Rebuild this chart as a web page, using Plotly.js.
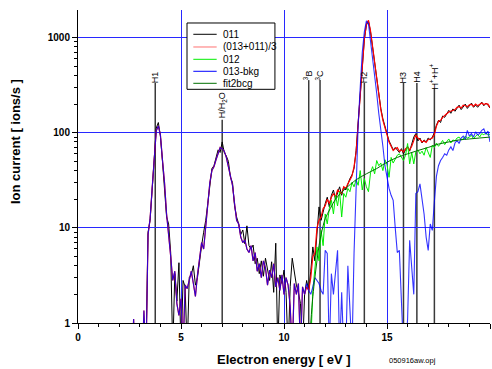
<!DOCTYPE html>
<html><head><meta charset="utf-8">
<script src="https://cdn.plot.ly/plotly-3.0.1.min.js"></script>
<style>html,body{margin:0;padding:0;background:#fff}#chart{width:492px;height:369px}</style>
</head><body><div id="chart"></div>
<script>
// Energy grid: start and step (eV)
const E0 = 2.5, dE = 0.1;
const E0_012 = 11.2;

// 011 (black), 2.5 .. 20.0 eV
const ion011 = [
 0.3,0.3,0.3,0.3,0.3,0.3,0.3,0.3,0.5,9,
 12,27,62,112,128,92,50,27,13,11,
 5.5,0.5,3.3,1.7,4.3,0.5,2.8,2.4,0.5,3.0,
 3.2,4.0,2.5,3.0,4.6,6.5,9.0,12,18,30,
 42,45,56,66,62,80,62,57,50,34,
 30,17,13,11,8.5,9.5,6.8,10.5,6.5,6.0,
 6.6,4.2,4.8,3.3,4.5,3.1,4.8,3.6,2.8,4.4,
 2.1,6.9,0.5,3.2,2.6,3.6,2.1,0.5,2.4,4.8,
 3.6,2.5,2.1,1.6,0.5,2.0,2.8,2.2,3.5,6.3,
 4.5,9.0,16.6,12,15,18,21,16.6,22,25,
 20,24,27,22,27,25,29,33,36,42,
 65,130,260,560,950,1350,1500,1150,800,520,
 340,240,180,140,115,95,82,74,66,70,
 66,62,68,60,66,72,64,75,90,98,
 82,88,78,84,80,88,84,90,100,120,
 135,128,150,145,160,172,160,178,168,180,
 195,175,190,200,180,192,205,185,195,185,
 200,210,192,205,195,182
];

// (013+011)/3 (red), 2.5 .. 20.0 eV
const ionAvg = [
 0.3,0.3,1.1,0.3,0.3,0.3,0.3,1.35,0.4,8.5,
 12.5,26,58,105,118,95,52,30,14,9,
 5,2.8,3.5,1.6,1.2,1.8,0.5,2.5,2.3,2.8,
 3.5,2.6,1.9,3.2,5.0,7.0,6.0,11,17,30,
 40,44,52,62,70,68,64,55,45,36,
 28,18,12,11,8,7,7.5,6,5.5,6.5,
 4.5,5.5,3.5,4.2,3.0,4.5,3.8,2.5,3.6,3.0,
 4.2,2.4,3.0,2.2,3.2,2.0,3.0,2.5,1.5,0.5,
 2.6,2.0,2.6,0.5,2.4,2.0,2.4,2.2,3.0,5.0,
 5.4,10,12,13,16,17,20,18,21,23,
 21,25,24,23,27,26,29,32,35,44,
 62,125,255,580,960,1380,1520,1180,800,520,
 345,235,175,135,112,96,80,72,65,68,
 70,64,66,63,68,70,66,72,85,95,
 88,85,80,82,79,85,86,88,96,118,
 132,135,145,150,158,165,168,172,175,185,
 188,182,195,192,188,196,198,190,200,192,
 198,205,198,202,200,185
];

// 012 (green), 11.2 .. 20.0 eV
const ion012 = [
 0.5,0.6,2.2,
 3.5,6.3,4.5,9.4,6.5,14,11,16,19.5,14,
 22,17,24,13,23,21,26,24,30,27,
 32,28,40,25,33,27,24,38,44,37,
 51,45,48,40,52,46,34,55,48,52,
 58,60,55,51,58,77,47,62,47,63,
 66,60,64,58,70,62,55,74,70,78,
 72,77,83,75,80,86,78,84,82,88,
 90,84,86,92,88,90,94,86,92,96,
 90,98,95,100,94,97
];

// 013-bkg (blue), 2.5 .. 20.0 eV
const ion013bkg = [
 0.3,0.3,1.1,0.3,0.3,0.3,0.3,1.35,0.4,8.5,
 12.5,26,58,105,118,95,52,30,14,9,
 5,2.8,3.5,1.6,1.2,1.8,0.5,2.5,2.3,2.8,
 3.5,2.6,1.9,3.2,5.0,7.0,6.0,11,17,30,
 40,44,52,62,70,68,64,55,45,36,
 28,18,12,11,8,7,7.5,6,5.5,6.5,
 4.5,5.5,3.5,4.2,3.0,4.5,3.8,2.5,3.6,3.0,
 4.2,2.4,3.0,2.2,3.2,2.0,3.0,2.5,1.5,0.5,
 2.6,2.0,2.6,0.5,2.4,2.0,2.6,2.2,2.0,2.4,
 3.0,2.8,2.6,2.2,2.0,5.8,5.4,0.5,3.3,2.0,
 3.6,5.8,0.5,2.1,0.5,0.5,4.0,1.1,0.5,5.4,
 27,120,300,700,1150,1500,1400,950,620,400,
 260,160,110,72,45,33,26,22,19.5,10,
 5.5,5.8,1.8,0.5,0.5,1.1,7.4,3.5,2.0,23,
 24,29,21,14,8,5.8,11,9.4,19,35,
 45,51,55,60,58,66,71,65,78,83,
 77,88,92,85,106,92,98,90,102,95,
 98,106,110,96,104,80
];

// fit2bcg (dark green)
const fitE = [11.3,11.4,11.5,11.6,11.7,11.8,11.9,12.0,12.25,12.5,12.75,13,13.5,14,14.5,15,15.5,16,16.5,17,17.5,18,18.5,19,19.5,20];
const fitV = [1.0,1.9,3.0,4.5,6.5,8.5,10.5,12.5,16,20,23,26,32,37,42,49,55,60,65,70,76,80,84,86,88,90];

// Marker lines (energies and labels)
const markE = [3.75, 7.0, 11.2, 11.75, 13.9, 15.8, 16.45, 17.3];
const markLabel = ["H1", "H/H<sub>2</sub>O", "<sup>3</sup>B", "<sup>3</sup>C", "H2", "H3", "H4", "H<sup>+</sup>+H<sup>+</sup>"];

const xTitle = "Electron energy [ eV ]";
const yTitle = "Ion current [ ions/s ]";
const fileNote = "050916aw.opj";

// ---- drawing ----
const FONT = "Liberation Sans, Arial, sans-serif";
const GRID = "#2828ff";
// placement of marker lines / labels (paper fractions)
const markTop = [0.767, 0.649, 0.776, 0.776, 0.767, 0.767, 0.767, 0.751];
const markLabelMid = [0.786, 0.696, 0.791, 0.791, 0.786, 0.786, 0.786, 0.789];

const styles = [
  {color: "#000000", width: 1},
  {color: "#ff0000", width: 1.2},
  {color: "#00ee00", width: 1},
  {color: "#0000ff", width: 1.1, opacity: 0.8},
  {color: "#007000", width: 1, shape: "spline"}
];

const traces = [
  {name: "011", y: ion011, x0: E0, dx: dE},
  {name: "(013+011)/3", y: ionAvg, x0: E0, dx: dE},
  {name: "012", y: ion012, x0: E0_012, dx: dE},
  {name: "013-bkg", y: ion013bkg, x0: E0, dx: dE},
  {name: "fit2bcg", x: fitE, y: fitV}
].map((t, i) => Object.assign(t, {
  type: "scatter", mode: "lines", showlegend: false,
  opacity: styles[i].opacity || 1,
  line: {color: styles[i].color, width: styles[i].width, shape: styles[i].shape || "linear"}
}));

const shapes = markE.map((e, i) => ({
  type: "line", xref: "x", yref: "paper", x0: e, x1: e, y0: 0, y1: markTop[i],
  line: {color: "#3a3a3a", width: 1.5}, layer: "below"
}));

const annotations = markE.map((e, i) => ({
  xref: "x", yref: "paper", x: e, y: markLabelMid[i], text: markLabel[i], showarrow: false,
  textangle: -90, xanchor: "center", yanchor: "middle", font: {family: FONT, size: 9, color: "#000"}
}));

// manual legend box
const LG = {x0: 0.2646, x1: 0.478, y0: 0.7466, y1: 0.9585, lx0: 0.2799, lx1: 0.3366, tx: 0.3464,
            rows: [0.9224, 0.8818, 0.8425, 0.8042, 0.7658]};
shapes.push({type: "rect", xref: "paper", yref: "paper", x0: LG.x0, x1: LG.x1, y0: LG.y0, y1: LG.y1,
             fillcolor: "#fff", line: {color: "#000", width: 1}, layer: "above"});
traces.forEach((t, i) => {
  shapes.push({type: "line", xref: "paper", yref: "paper", x0: LG.lx0, x1: LG.lx1, y0: LG.rows[i], y1: LG.rows[i],
               line: {color: styles[i].color, width: 1}, opacity: i === 1 ? 0.55 : 1, layer: "above"});
  annotations.push({xref: "paper", yref: "paper", x: LG.tx, y: LG.rows[i], text: t.name, showarrow: false,
                    xanchor: "left", yanchor: "middle", font: {family: FONT, size: 10, color: "#000"}});
});

annotations.push(
  {xref: "paper", yref: "paper", x: 0.5, y: -0.118, text: xTitle, showarrow: false, xanchor: "center", yanchor: "middle",
   font: {family: FONT, size: 13, color: "#000", weight: "bold"}},
  {xref: "paper", yref: "paper", x: -0.153, y: 0.581, text: yTitle, showarrow: false, textangle: -90, xanchor: "center", yanchor: "middle",
   font: {family: FONT, size: 13, color: "#000", weight: "bold"}},
  {xref: "paper", yref: "paper", x: 0.811, y: -0.121, text: fileNote, showarrow: false, xanchor: "center", yanchor: "middle",
   font: {family: FONT, size: 7.5, color: "#000"}}
);

const layout = {
  width: 492, height: 369,
  margin: {l: 78, r: 2, t: 10, b: 46},
  paper_bgcolor: "#fff", plot_bgcolor: "#fff",
  showlegend: false,
  xaxis: {range: [0, 20], dtick: 5, tick0: 0, showgrid: true, gridcolor: GRID, gridwidth: 1,
          showline: true, linecolor: "#000", linewidth: 1, ticks: "outside", ticklen: 5, tickcolor: "#000",
          minor: {dtick: 1, ticks: "outside", ticklen: 3, tickcolor: "#000", showgrid: false},
          tickfont: {family: FONT, size: 10, color: "#000", weight: "bold"}, zeroline: false},
  yaxis: {type: "log", range: [0, 3.29], dtick: 1, showgrid: true, gridcolor: GRID, gridwidth: 1,
          showline: true, linecolor: "#000", linewidth: 1, ticks: "outside", ticklen: 5, tickcolor: "#000",
          minor: {dtick: "D1", ticks: "outside", ticklen: 3, tickcolor: "#000", showgrid: false},
          tickfont: {family: FONT, size: 10, color: "#000", weight: "bold"}, zeroline: false},
  xaxis2: {overlaying: "x", side: "top", anchor: "y", range: [0, 20], dtick: 5, showgrid: false, gridcolor: GRID,
           showline: true, linecolor: "#000", ticks: "inside", ticklen: 5, tickcolor: "#000", showticklabels: false, zeroline: false,
           minor: {dtick: 1, ticks: "inside", ticklen: 3, tickcolor: "#000", showgrid: false}},
  yaxis2: {overlaying: "y", side: "right", anchor: "x", type: "log", range: [0, 3.29], dtick: 1, showgrid: false, gridcolor: GRID,
           showline: true, linecolor: "#000", ticks: "inside", ticklen: 5, tickcolor: "#000", showticklabels: false, zeroline: false,
           minor: {dtick: "D1", ticks: "inside", ticklen: 3, tickcolor: "#000", showgrid: false}},
  shapes: shapes,
  annotations: annotations
};

Plotly.newPlot("chart", traces, layout, {staticPlot: true, displayModeBar: false});
</script>
</body></html>
